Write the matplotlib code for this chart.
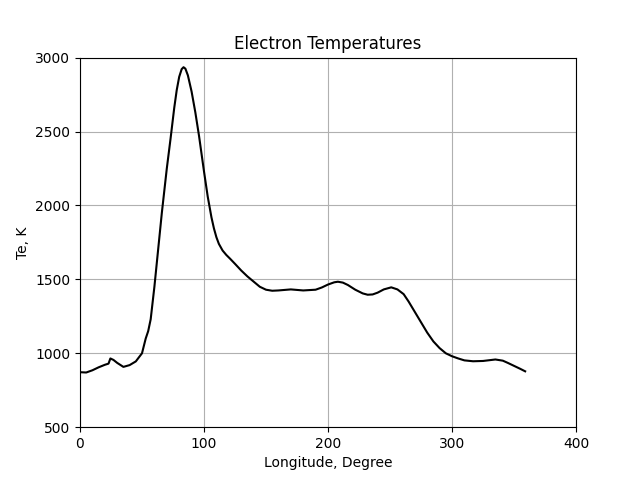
import matplotlib
matplotlib.use('Agg')
import matplotlib.pyplot as plt
from matplotlib.ticker import MultipleLocator

# values
lon = [0, 5, 10, 15, 20, 23, 24.5, 27, 30, 35, 40, 45, 50, 53, 55, 57, 60, 63,
       66, 70, 73, 76, 78, 80, 82, 83.5, 85, 87, 90, 93, 96, 100, 103, 106,
       108, 110, 112, 115, 118, 121, 125, 130, 135, 140, 145, 150, 155, 160,
       170, 180, 190, 195, 200, 205, 208, 212, 216, 222, 228, 232, 236, 240,
       245, 251, 256, 261, 265, 270, 275, 280, 285, 290, 295, 300, 305, 310,
       317, 325, 335, 341, 345, 350, 355, 359]
te = [872, 870, 885, 905, 922, 930, 965, 955, 935, 908, 920, 945, 1000, 1100,
      1150, 1230, 1450, 1700, 1950, 2250, 2450, 2660, 2780, 2870, 2922, 2935,
      2925, 2880, 2770, 2630, 2470, 2230, 2060, 1920, 1845, 1785, 1740, 1695,
      1665, 1640, 1605, 1560, 1520, 1485, 1450, 1430, 1423, 1425, 1432, 1425,
      1430, 1445, 1465, 1480, 1484, 1478, 1462, 1430, 1405, 1396, 1398, 1410,
      1432, 1446, 1432, 1400, 1350, 1280, 1210, 1140, 1080, 1035, 1000, 980,
      965, 952, 946, 948, 958, 950, 935, 915, 895, 878]

fig, ax = plt.subplots(figsize=(6.4, 4.8), dpi=100)
ax.plot(lon, te, color='black')
ax.set_xlim(0, 400)
ax.set_ylim(500, 3000)
ax.xaxis.set_major_locator(MultipleLocator(100))
ax.set_title('Electron Temperatures')
ax.set_xlabel('Longitude, Degree')
ax.set_ylabel('Te, K')
ax.grid(True)
fig.savefig('out.png')
